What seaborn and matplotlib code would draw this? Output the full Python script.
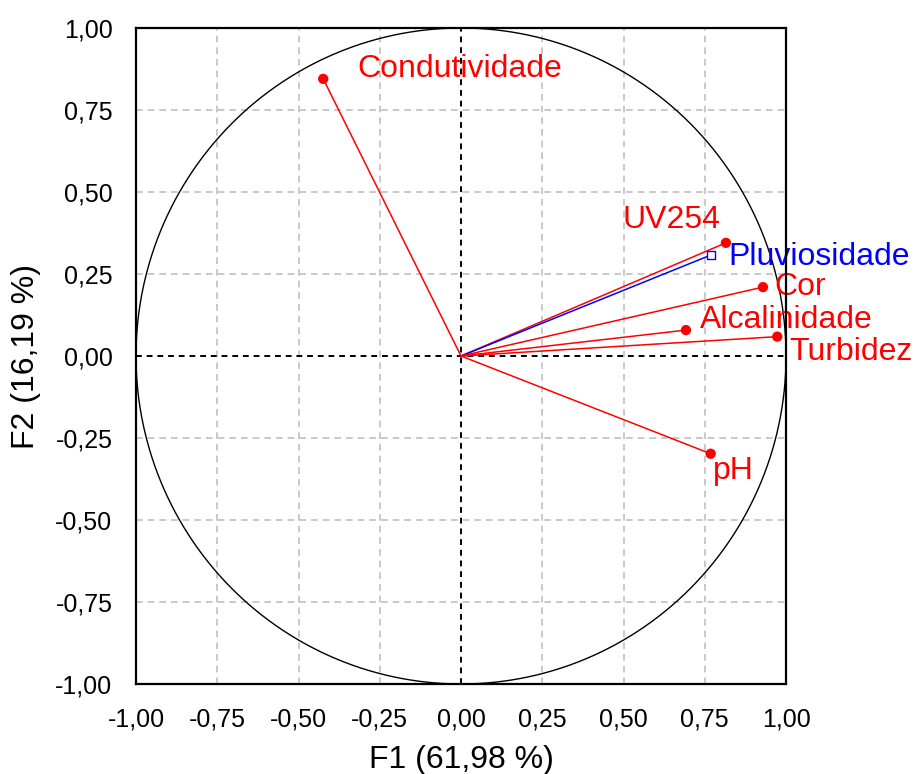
import numpy as np
import pandas as pd
import matplotlib
matplotlib.use("Agg")
import matplotlib.pyplot as plt
import seaborn as sns

# Correlation circle: loadings of each variable on F1 and F2
variables = ["Condutividade", "UV254", "Pluviosidade", "Cor", "Alcalinidade", "Turbidez", "pH"]
f1 = [-0.424, 0.815, 0.769, 0.929, 0.692, 0.973, 0.768]
f2 = [0.845, 0.345, 0.308, 0.210, 0.079, 0.059, -0.298]
kind = ["active", "active", "supplementary", "active", "active", "active", "active"]

tick_values = [-1.0, -0.75, -0.5, -0.25, 0.0, 0.25, 0.5, 0.75, 1.0]
tick_labels = ["-1,00", "-0,75", "-0,50", "-0,25", "0,00", "0,25", "0,50", "0,75", "1,00"]
x_title = "F1 (61,98 %)"
y_title = "F2 (16,19 %)"

# label offsets in pixels relative to each point
offsets = {
    "Condutividade": (34, 10),
    "UV254": (-103, 23),
    "Pluviosidade": (17, -2),
    "Cor": (11, 0),
    "Alcalinidade": (14, 10),
    "Turbidez": (12, -15),
    "pH": (2, -17),
}

df = pd.DataFrame({"variable": variables, "F1": f1, "F2": f2, "kind": kind})

sns.set_style("white")
plt.rcParams["font.family"] = ["Liberation Sans", "DejaVu Sans"]
plt.rcParams["text.color"] = "black"
plt.rcParams["axes.labelcolor"] = "black"

fig = plt.figure(figsize=(9.14, 7.74), dpi=100)
ax = fig.add_axes([0.1488, 0.1163, 0.7112, 0.8475])

# grid
for v in tick_values[1:-1]:
    if v == 0:
        continue
    ax.axvline(v, color="#c0c0c0", lw=1.2, ls=(0, (4, 3)), zorder=0)
    ax.axhline(v, color="#c0c0c0", lw=1.2, ls=(0, (4, 3)), zorder=0)
ax.axvline(0, color="black", lw=1.4, ls=(0, (3, 2.5)), zorder=1)
ax.axhline(0, color="black", lw=1.4, ls=(0, (3, 2.5)), zorder=1)

# unit circle
theta = np.linspace(0, 2 * np.pi, 721)
ax.plot(np.cos(theta), np.sin(theta), color="black", lw=1.0, zorder=2)

colors = {"active": "#ff0000", "supplementary": "#0000ff"}

# vectors from origin
for _, r in df.iterrows():
    ax.plot([0, r.F1], [0, r.F2], color=colors[r.kind], lw=1.1, zorder=3)

active = df[df.kind == "active"]
supp = df[df.kind == "supplementary"]
sns.scatterplot(data=active, x="F1", y="F2", ax=ax, color="#ff0000", s=55,
                edgecolor="none", zorder=4, legend=False)
sns.scatterplot(data=supp, x="F1", y="F2", ax=ax, marker="s", s=30,
                facecolor="white", edgecolor="#0000ff", linewidth=1.0,
                zorder=4, legend=False)

for _, r in df.iterrows():
    dx, dy = offsets[r.variable]
    ax.annotate(r.variable, (r.F1, r.F2), xytext=(dx, dy),
                textcoords="offset pixels", ha="left", va="center",
                fontsize=23, color=colors[r.kind], annotation_clip=False,
                zorder=5)

ax.set_xlim(-1, 1)
ax.set_ylim(-1, 1)
ax.set_xticks(tick_values)
ax.set_xticklabels(tick_labels)
ax.set_yticks(tick_values)
ax.set_yticklabels(tick_labels)
ax.tick_params(length=0, pad=17, labelsize=18, colors="black")
ax.set_xlabel(x_title, fontsize=23, labelpad=10)
ax.set_ylabel(y_title, fontsize=23, labelpad=10)
for s in ax.spines.values():
    s.set_color("black")
    s.set_linewidth(1.6)
    s.set_zorder(6)

fig.savefig("out.png", dpi=100)
